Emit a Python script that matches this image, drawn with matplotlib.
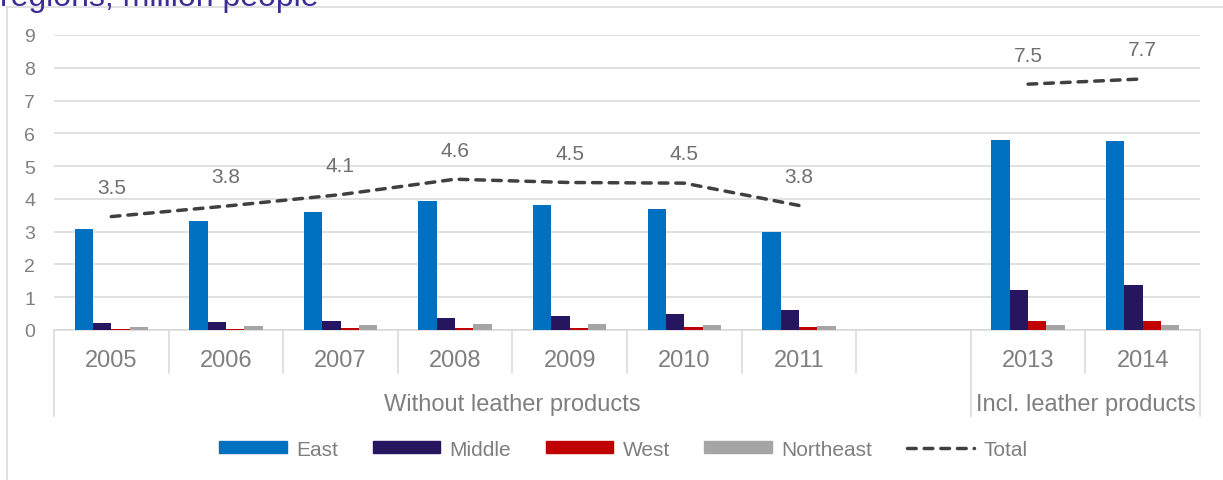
import numpy as np
import matplotlib.pyplot as plt
from matplotlib.lines import Line2D
from matplotlib.patches import Patch

# categories (empty slot for 2012)
years = ['2005', '2006', '2007', '2008', '2009', '2010', '2011', '', '2013', '2014']
groups = ['Without leather products', 'Incl. leather products']
group_spans = [(0, 8), (8, 10)]  # slot index ranges

nan = np.nan
east = [3.07, 3.33, 3.61, 3.93, 3.80, 3.68, 2.99, nan, 5.80, 5.78]
middle = [0.22, 0.25, 0.28, 0.36, 0.42, 0.50, 0.60, nan, 1.23, 1.37]
west = [0.02, 0.02, 0.05, 0.06, 0.07, 0.08, 0.10, nan, 0.26, 0.28]
northeast = [0.09, 0.12, 0.15, 0.17, 0.17, 0.16, 0.13, nan, 0.15, 0.15]
total = [3.46, 3.78, 4.13, 4.60, 4.50, 4.48, 3.80, nan, 7.50, 7.66]

series = [('East', east, '#0070C0'),
          ('Middle', middle, '#261660'),
          ('West', west, '#C00000'),
          ('Northeast', northeast, '#A5A5A5')]

grey = '#7F7F7F'
light = '#D9D9D9'
plt.rcParams['font.family'] = ['Liberation Sans', 'DejaVu Sans']

W, H = 1223, 481
fig = plt.figure(figsize=(W / 100, H / 100), dpi=100)
ax = fig.add_axes([54 / W, 1 - 331 / H, (1200 - 54) / W, (331 - 36) / H])

x = np.arange(len(years))
bw = 0.16
for k, (name, vals, col) in enumerate(series):
    v = np.array(vals)
    m = ~np.isnan(v)
    ax.bar(x[m] + (k - 1.5) * bw, v[m], width=bw, color=col, zorder=3, label=name)

# total line, broken at the empty year
t = np.array(total)
ax.plot(x, t, color='#404040', lw=2.5, linestyle=(0, (2.5, 2.3)),
        dash_capstyle='round', zorder=4)
for xi, ti in zip(x, t):
    if not np.isnan(ti):
        ax.annotate(f'{ti:.1f}', (xi, ti), xytext=(0, 21), textcoords='offset points',
                    ha='center', va='center', fontsize=15, color='#6F6F6F')

ax.set_xlim(-0.5, len(years) - 0.5)
ax.set_ylim(0, 9)
ax.set_yticks(range(10))
ax.tick_params(axis='y', length=0, pad=13.5, labelsize=14, labelcolor=grey)
ax.grid(axis='y', color=light, lw=1.1, zorder=0)
ax.set_xticks([])
for s in ['top', 'right', 'left']:
    ax.spines[s].set_visible(False)
ax.spines['bottom'].set_color(light)
ax.spines['bottom'].set_linewidth(1.1)

# category labels and separators
ah = 331 - 36
for xi, lab in zip(x, years):
    ax.annotate(lab, (xi, 0), xycoords=('data', 'axes fraction'), xytext=(0, -21.5),
                textcoords='offset points', ha='center', va='center',
                fontsize=17, color=grey)
long_edges = [g[0] - 0.5 for g in group_spans] + [len(years) - 0.5]
for b in np.arange(-0.5, len(years), 1.0):
    depth = 86 if b in long_edges else 43
    ax.plot([b, b], [0, -depth / ah], transform=ax.get_xaxis_transform(),
            color=light, lw=1.1, clip_on=False)
for name, (a, b) in zip(groups, group_spans):
    ax.annotate(name, ((a + b - 1) / 2, 0), xycoords=('data', 'axes fraction'),
                xytext=(0, -53), textcoords='offset points', ha='center',
                va='center', fontsize=17, color=grey)

# legend
handles = [Patch(color=c, label=n) for n, _, c in series]
handles.append(Line2D([], [], color='#404040', lw=2.5, linestyle=(0, (2.5, 2.3)),
                      dash_capstyle='round', label='Total'))
fig.legend(handles=handles, loc='center', bbox_to_anchor=(623.5 / W, 1 - 450 / H),
           ncol=5, frameon=False, fontsize=15, labelcolor=grey, handlelength=3.25,
           handleheight=0.45, handletextpad=0.45, columnspacing=1.65)

# chart frame and cut-off title
fig.add_artist(Line2D([7 / W, 7 / W], [0, 1 - 8 / H], color=light, lw=1.1))
fig.add_artist(Line2D([7 / W, 1], [1 - 8 / H, 1 - 8 / H], color=light, lw=1.1))
fig.text(0, 1 - 6 / H, 'regions, million people', fontsize=23, color='#3A2D96',
         ha='left', va='baseline')

fig.savefig('out.png', dpi=100)
